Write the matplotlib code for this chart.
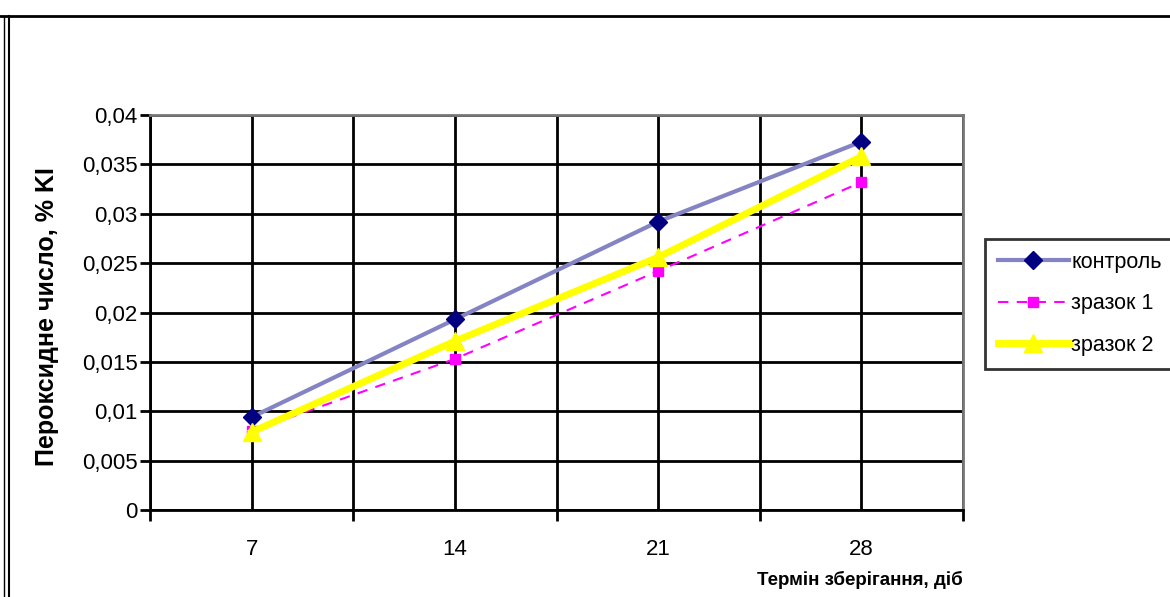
import matplotlib.pyplot as plt
from matplotlib.lines import Line2D
from matplotlib.ticker import FuncFormatter

plt.rcParams['font.family'] = ['Liberation Sans', 'DejaVu Sans']

days = ["7", "14", "21", "28"]
control = [0.0094, 0.0193, 0.0292, 0.0373]
sample1 = [0.0080, 0.0153, 0.0242, 0.0332]
sample2 = [0.0079, 0.0171, 0.0256, 0.0358]
series_names = ["контроль", "зразок 1", "зразок 2"]

W, H = 1170, 597
fig = plt.figure(figsize=(W / 100, H / 100), dpi=100)
ax = fig.add_axes([150 / W, 1 - 510 / H, 813 / W, 395 / H])

x = list(range(1, len(days) + 1))

ax.plot(x, control, color="#8484c4", lw=3, marker="D", ms=9,
        mfc="#000080", mec="#000080", label=series_names[0], zorder=3)
ax.plot(x, sample1, color="#ff00ff", lw=1.5, ls=(0, (5, 4)), marker="s", ms=7,
        mfc="#ff00ff", mec="#ff00ff", label=series_names[1], zorder=3)
ax.plot(x, sample2, color="#ffff00", lw=5, marker="^", ms=13,
        mfc="#ffff00", mec="#ffff00", label=series_names[2], zorder=4)

ax.set_xlim(0.5, len(days) + 0.5)
ax.set_ylim(0, 0.04)
ax.set_yticks([i * 0.005 for i in range(9)])
ax.yaxis.set_major_formatter(FuncFormatter(
    lambda v, p: "0" if abs(v) < 1e-9 else f"{v:.3f}".rstrip("0").replace(".", ",")))

# category ticks sit between the points, labels at the points
ax.set_xticks([i + 0.5 for i in range(len(days) + 1)])
ax.set_xticklabels([])
ax.set_xticks(x, minor=True)
ax.set_xticklabels(days, minor=True)
ax.tick_params(axis="x", which="minor", length=0, pad=21, labelsize=16)
ax.tick_params(axis="x", which="major", length=8, width=2, direction="out")
ax.tick_params(axis="y", length=7, width=2, direction="out", labelsize=16, pad=2)

# grid every half category plus horizontal grid
for gx in [i * 0.5 + 0.5 for i in range(2 * len(days) + 1)]:
    ax.axvline(gx, color="black", lw=2, zorder=1)
ax.grid(axis="y", color="black", lw=2, zorder=1)
ax.set_axisbelow(True)

for side in ["top", "right"]:
    ax.spines[side].set_color("#777777")
    ax.spines[side].set_linewidth(2)
for side in ["left", "bottom"]:
    ax.spines[side].set_linewidth(2)

fig.text(47 / W, 1 - 317 / H, "Пероксидне число, % KI", fontsize=18,
         fontweight="bold", rotation=90, ha="center", va="center")
fig.text(963 / W, 1 - 580 / H, "Термін зберігання, діб", fontsize=13.5,
         fontweight="bold", ha="right", va="center")

leg = fig.legend(loc="upper left", bbox_to_anchor=(985 / W, 1 - 239 / H),
                 fontsize=15.5, frameon=True, fancybox=False, handlelength=3.3,
                 handletextpad=0.1, borderpad=0.6, labelspacing=0.95,
                 borderaxespad=0)
leg.get_frame().set_edgecolor("black")
leg.get_frame().set_linewidth(2)

# page frame lines around the chart
fig.add_artist(Line2D([0, 1], [1 - 16 / H, 1 - 16 / H], color="black", lw=2))
fig.add_artist(Line2D([9 / W, 9 / W], [0, 1 - 16 / H], color="black", lw=1.5))
fig.add_artist(Line2D([4 / W, 4 / W], [0, 1 - 16 / H], color="black", lw=1))

fig.savefig("out.png", dpi=100)
